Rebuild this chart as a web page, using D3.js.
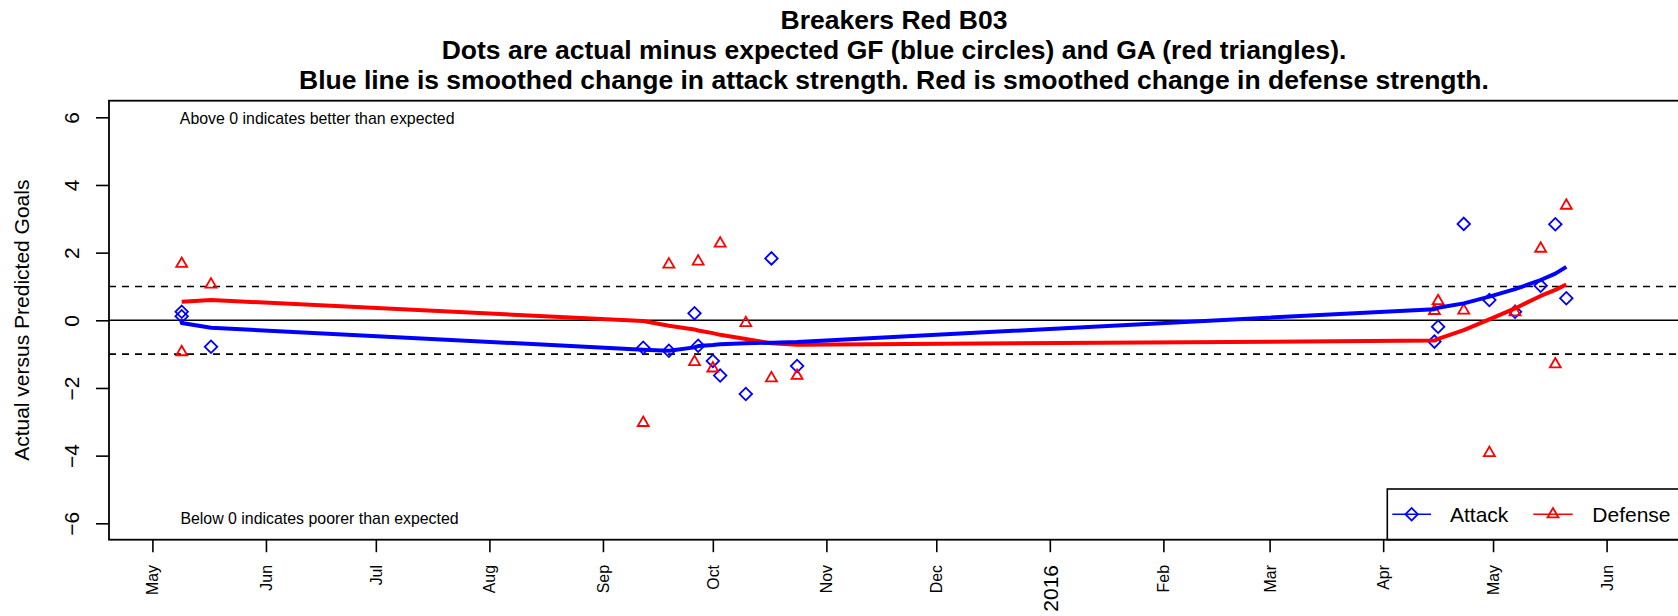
<!DOCTYPE html>
<html><head><meta charset="utf-8">
<script src="https://cdn.jsdelivr.net/npm/d3@7"></script>
<style>
body{margin:0;background:#fff}
svg{display:block}
text{font-family:"Liberation Sans",Arial,Helvetica,sans-serif;fill:#000}
</style>
</head><body>
<svg id="chart" width="1678" height="616"></svg>
<script>
// ---------------- data ----------------
const gameDates = ["2015-05-09","2015-05-09","2015-05-17","2015-09-12","2015-09-19","2015-09-26","2015-09-27","2015-10-01","2015-10-03","2015-10-10","2015-10-17","2015-10-24","2016-04-15","2016-04-16","2016-04-23","2016-04-30","2016-05-07","2016-05-14","2016-05-18","2016-05-21"];
const attackDiff  = [0.25,0.12,-0.78,-0.81,-0.90,0.21,-0.75,-1.20,-1.63,-2.18,1.83,-1.35,-0.63,-0.19,2.85,0.60,0.25,1.02,2.84,0.65];
const defenseDiff = [1.67,-0.94,1.06,-3.03,1.65,-1.23,1.74,-1.42,2.27,-0.08,-1.71,-1.64,0.28,0.57,0.29,-3.92,0.24,2.12,-1.30,3.39];
const attackSmooth  = [0.03,-0.08,-0.22,-0.87,-0.90,-0.80,-0.76,-0.73,-0.71,-0.68,-0.66,-0.64,0.33,0.37,0.50,0.70,0.92,1.19,1.38,1.58];
const defenseSmooth = [0.55,0.55,0.60,-0.02,-0.16,-0.27,-0.30,-0.38,-0.43,-0.55,-0.68,-0.72,-0.60,-0.55,-0.29,0.03,0.35,0.72,0.90,1.06];
const yTicks = [-6,-4,-2,0,2,4,6];
const refLines = [-1,1];
const titleLines = ["Breakers Red B03",
  "Dots are actual minus expected GF (blue circles) and GA (red triangles).",
  "Blue line is smoothed change in attack strength. Red is smoothed change in defense strength."];
const yLabel = "Actual versus Predicted Goals";
const noteAbove = "Above 0 indicates better than expected";
const noteBelow = "Below 0 indicates poorer than expected";
const legendLabels = ["Attack","Defense"];
const monthStart = "2015-05-01", monthEnd = "2016-06-01";

// ---------------- layout ----------------
const BLUE="#0000ff", RED="#ff0000";
const P = {left:109, right:1679, top:100.7, bottom:539.7};
const parse = d3.utcParse("%Y-%m-%d");
const dates = gameDates.map(parse);

const x = d3.scaleUtc().domain([parse(monthStart), parse(monthEnd)]).range([152.4, 1606.6]);
const y = d3.scaleLinear().domain([-6,6]).range([523.3,117.3]);

const svg = d3.select("#chart");

// titles
const tY = [28.5, 59, 89];
titleLines.forEach((t,i)=>{
  svg.append("text").attr("x",(P.left+P.right)/2).attr("y",tY[i])
    .attr("text-anchor","middle").attr("font-weight","bold").attr("font-size","26.5px").text(t);
});

// reference lines
svg.append("line").attr("x1",P.left).attr("x2",P.right).attr("y1",y(0)).attr("y2",y(0))
  .attr("stroke","#000").attr("stroke-width",1.6);
refLines.forEach(v=>{
  svg.append("line").attr("x1",P.left).attr("x2",P.right).attr("y1",y(v)).attr("y2",y(v))
    .attr("stroke","#000").attr("stroke-width",1.6).attr("stroke-dasharray","7,6");
});

// points
const diamond = d3.symbol().type(d3.symbolSquare).size(78);
const tri = d3.symbol().type(d3.symbolTriangle).size(52);
svg.append("g").selectAll("path").data(dates).join("path")
  .attr("d",diamond).attr("transform",(d,i)=>`translate(${x(d)},${y(attackDiff[i])}) rotate(45)`)
  .attr("fill","none").attr("stroke",BLUE).attr("stroke-width",1.8);
svg.append("g").selectAll("path").data(dates).join("path")
  .attr("d",tri).attr("transform",(d,i)=>`translate(${x(d)},${y(defenseDiff[i])})`)
  .attr("fill","none").attr("stroke",RED).attr("stroke-width",1.8);

// smoothed lines
const line = d3.line().x(d=>x(d[0])).y(d=>y(d[1]));
svg.append("path").attr("d",line(dates.map((d,i)=>[d,defenseSmooth[i]])))
  .attr("fill","none").attr("stroke",RED).attr("stroke-width",4).attr("stroke-linejoin","round");
svg.append("path").attr("d",line(dates.map((d,i)=>[d,attackSmooth[i]])))
  .attr("fill","none").attr("stroke",BLUE).attr("stroke-width",4).attr("stroke-linejoin","round");

// notes
svg.append("text").attr("x",179.8).attr("y",124).attr("font-size","15.9px").text(noteAbove);
svg.append("text").attr("x",180.4).attr("y",524.3).attr("font-size","15.9px").text(noteBelow);

// y axis
const gy = svg.append("g").attr("transform",`translate(${P.left},0)`)
  .call(d3.axisLeft(y).tickValues(yTicks).tickSize(13)
    .tickFormat(d=> d<0 ? "\u2212"+Math.abs(d) : String(d)));
gy.select(".domain").remove();
gy.selectAll(".tick line").attr("stroke","#000").attr("stroke-width",1.6);
gy.selectAll(".tick text").attr("x",null).attr("dy",null)
  .attr("transform",`translate(${79.3-P.left},0) rotate(-90)`)
  .attr("text-anchor","middle").attr("font-size","21px")
  .attr("font-family","'Liberation Sans',Arial,sans-serif").attr("fill","#000");

// y label
svg.append("text").attr("transform",`translate(28.6,${(P.top+P.bottom)/2}) rotate(-90)`)
  .attr("text-anchor","middle").attr("font-size","21px").text(yLabel);

// x axis
const months = d3.utcMonth.range(parse(monthStart), d3.utcDay.offset(parse(monthEnd),1));
const gx = svg.append("g").attr("transform",`translate(0,${P.bottom})`)
  .call(d3.axisBottom(x).tickValues(months).tickSize(12.5)
    .tickFormat(d=> d.getUTCMonth()===0 ? String(d.getUTCFullYear()) : d3.utcFormat("%b")(d)));
gx.select(".domain").remove();
gx.selectAll(".tick line").attr("stroke","#000").attr("stroke-width",1.6);
gx.selectAll(".tick text").attr("y",null).attr("dy",null)
  .attr("transform",`translate(0,${565-P.bottom}) rotate(-90)`)
  .attr("text-anchor","end")
  .attr("font-family","'Liberation Sans',Arial,sans-serif").attr("fill","#000")
  .each(function(d){
    const yr = d.getUTCMonth()===0;
    d3.select(this).attr("font-size", yr ? "21px" : "15.9px").attr("dy", yr ? "0.38em" : "0.35em");
  });

// legend
const L = {x:1387.3, y:489};
svg.append("rect").attr("x",L.x).attr("y",L.y).attr("width",P.right-L.x).attr("height",P.bottom-L.y)
  .attr("fill","#fff").attr("stroke","#000").attr("stroke-width",1.6);
const legItems = [
  {label:legendLabels[0], color:BLUE, sym:"d", x0:1392.3, x1:1431, tx:1450},
  {label:legendLabels[1], color:RED, sym:"t", x0:1533.3, x1:1572.7, tx:1592.3}
];
const ly = 514.3;
legItems.forEach(it=>{
  svg.append("line").attr("x1",it.x0).attr("x2",it.x1).attr("y1",ly).attr("y2",ly)
    .attr("stroke",it.color).attr("stroke-width",1.6);
  const cx=(it.x0+it.x1)/2;
  svg.append("path").attr("d", it.sym==="d"?diamond():tri())
    .attr("transform", it.sym==="d"?`translate(${cx},${ly}) rotate(45)`:`translate(${cx},${ly})`)
    .attr("fill","none").attr("stroke",it.color).attr("stroke-width",1.8);
  svg.append("text").attr("x",it.tx).attr("y",521.7).attr("font-size","21px").text(it.label);
});

// plot box
svg.append("rect").attr("x",P.left).attr("y",P.top).attr("width",P.right-P.left).attr("height",P.bottom-P.top)
  .attr("fill","none").attr("stroke","#000").attr("stroke-width",1.8);
</script>
</body></html>
